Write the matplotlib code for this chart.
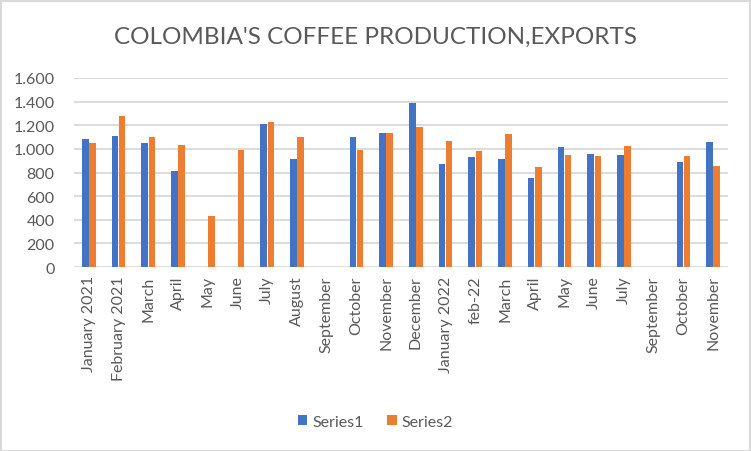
import matplotlib.pyplot as plt
import numpy as np
from matplotlib.patches import Rectangle

# monthly values (thousand bags?)
months = ['January 2021', 'February 2021', 'March', 'April', 'May', 'June',
          'July', 'August', 'September', 'October', 'November', 'December',
          'January 2022', 'feb-22', 'March', 'April', 'May', 'June', 'July',
          'September', 'October', 'November']
series1 = [1083, 1108, 1049, 811, 0, 0, 1210, 913, 0, 1099, 1133, 1388,
           871, 930, 913, 752, 1015, 955, 947, 0, 888, 1057]
series2 = [1049, 1278, 1099, 1032, 430, 989, 1227, 1099, 0, 989, 1133, 1184,
           1066, 981, 1125, 845, 947, 938, 1023, 0, 938, 854]

plt.rcParams['font.family'] = ['Lato', 'DejaVu Sans']
grey = '#595959'

fig = plt.figure(figsize=(7.51, 4.52), dpi=100)
W, H = 751, 452
ax = fig.add_axes([74 / W, 1 - 268 / H, (728 - 74) / W, (268 - 79) / H])

x = np.arange(len(months))
w = 0.22
ax.bar(x - 0.12, series1, w, color='#4472C4', label='Series1', zorder=3)
ax.bar(x + 0.12, series2, w, color='#ED7D31', label='Series2', zorder=3)

ax.set_xlim(-0.5, len(months) - 0.5)
ax.set_ylim(0, 1600)
ax.set_yticks(range(0, 1601, 200))
ax.set_yticklabels([f'{v:,}'.replace(',', '.') for v in range(0, 1601, 200)])
ax.set_xticks(x)
ax.set_xticklabels(months, rotation=90)
ax.yaxis.grid(True, color='#D9D9D9', linewidth=1.3, zorder=0)
for s in ax.spines.values():
    s.set_visible(False)
ax.tick_params(length=0, labelsize=11.5, colors=grey)
ax.tick_params(axis='y', pad=14)
ax.tick_params(axis='x', pad=6)

fig.text(0.5, 1 - 37 / H, "COLOMBIA'S COFFEE PRODUCTION,EXPORTS", ha='center',
         va='center', fontsize=17.5, color=grey)
fig.legend(loc='center', bbox_to_anchor=(0.5, 1 - 423 / H), ncol=2, frameon=False,
           fontsize=11.5, labelcolor=grey, handlelength=0.6, handleheight=0.6,
           handletextpad=0.3, columnspacing=1.5)

fig.patches.append(Rectangle((0.5 / W, 0.5 / H), 1 - 2 / W, 1 - 2 / H,
                             transform=fig.transFigure, fill=False,
                             edgecolor='#D9D9D9', linewidth=1.5))
fig.savefig('out.png', dpi=100)
